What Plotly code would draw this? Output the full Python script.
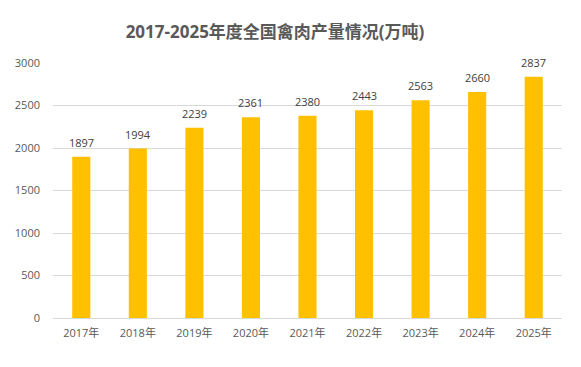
import plotly.graph_objects as go

years = ["2017年", "2018年", "2019年", "2020年", "2021年", "2022年", "2023年", "2024年", "2025年"]
output = [1897, 1994, 2239, 2361, 2380, 2443, 2563, 2660, 2837]
title_text = "2017-2025年度全国禽肉产量情况(万吨)"

font_family = "Open Sans, Noto Sans CJK SC, sans-serif"

fig = go.Figure(go.Bar(
    x=years, y=output,
    marker=dict(color="#FFC000", line=dict(width=0)),
    hoverinfo="x+y",
))

for yr, v in zip(years, output):
    fig.add_annotation(x=yr, y=v, text=str(v), showarrow=False, yanchor="bottom", yshift=5,
                       font=dict(size=11, color="#404040", family=font_family))

fig.update_layout(
    width=573, height=359,
    margin=dict(l=45, r=19, t=55, b=49, autoexpand=False),
    paper_bgcolor="white", plot_bgcolor="white",
    title=dict(text="<b>" + title_text + "</b>", x=0.466, xanchor="center", y=0.933, yanchor="middle",
               font=dict(size=17, color="#595959", family=font_family)),
    bargap=0.68,
    showlegend=False,
    font=dict(family=font_family, color="#595959", size=11),
)
fig.update_xaxes(showgrid=False, showline=True, linecolor="#d9d9d9", linewidth=1, ticks="",
                 automargin=False, ticklabelstandoff=5, tickfont=dict(size=11, color="#595959"))
fig.update_yaxes(range=[0, 3000], dtick=500, showgrid=True, gridcolor="#d9d9d9", gridwidth=1,
                 zeroline=False, showline=False, ticks="", ticklen=0, ticklabelstandoff=12,
                 automargin=False, tickfont=dict(size=11, color="#595959"))

fig.write_html("out.html")
